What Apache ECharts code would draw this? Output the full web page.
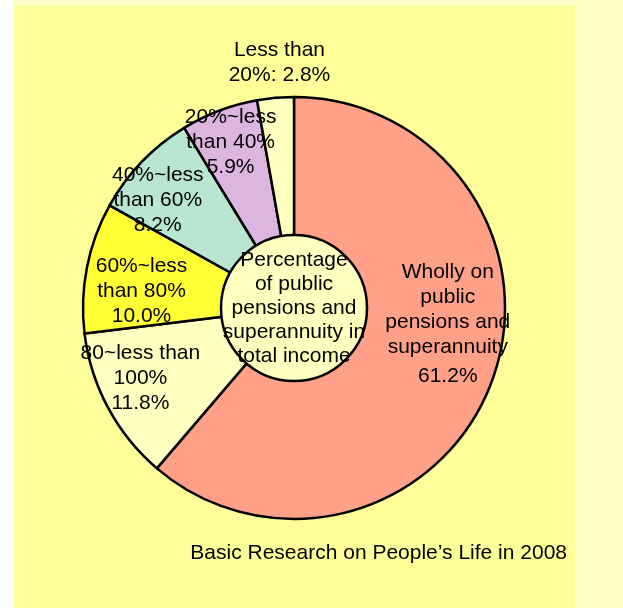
<!DOCTYPE html>
<html>
<head>
<meta charset="utf-8">
<script src="https://cdn.jsdelivr.net/npm/echarts@6/dist/echarts.min.js"></script>
<style>
  html, body { margin: 0; padding: 0; background: #ffffff; }
  #chart { width: 623px; height: 608px; }
</style>
</head>
<body>
<div id="chart"></div>
<script>
// Share of public pensions and superannuity in total income
const categories = [
  'Wholly on\npublic\npensions and\nsuperannuity',
  '80~less than\n100%',
  '60%~less\nthan 80%',
  '40%~less\nthan 60%',
  '20%~less\nthan 40%',
  'Less than\n20%'
];
const shares = [61.2, 11.8, 10.0, 8.2, 5.9, 2.8];
const valueSeparators = ['\n', '\n', '\n', '\n', '\n', ': '];
const centerTitle = 'Percentage\nof public\npensions and\nsuperannuity in\ntotal income';
const sourceNote = 'Basic Research on People\u2019s Life in 2008';

// slice styling
const sliceColors = ['#FFA088', '#FFFFC0', '#FFFF33', '#B8E6D0', '#DDB6E0', '#FFFFC0'];
// label nudges from the default inside position [dx, dy]
const labelNudges = [[52, -19], [-58, 19], [-46, 4], [-58, -33], [-25, -64], [-5, -137]];

const font = '"Liberation Sans", Arial, sans-serif';

const chart = echarts.init(document.getElementById('chart'), null, { renderer: 'canvas' });

chart.setOption({
  backgroundColor: '#FFFFC8',
  animation: false,
  graphic: [
    { type: 'rect', z: -10, shape: { x: 0, y: 0, width: 14, height: 608 }, style: { fill: '#ffffff' } },
    { type: 'rect', z: -10, shape: { x: 14, y: 6, width: 561, height: 602 }, style: { fill: '#FFFF99' } },
    {
      type: 'text', z: 10, x: 567, y: 553,
      style: {
        text: sourceNote, fill: '#000', font: '21px ' + font,
        align: 'right', verticalAlign: 'middle'
      }
    }
  ],
  series: [
    {
      type: 'pie',
      center: [294, 308],
      radius: [0, 211],
      startAngle: 90,
      clockwise: true,
      silent: true,
      itemStyle: { borderColor: '#000', borderWidth: 2.5 },
      label: {
        show: true,
        position: 'inside',
        color: '#000',
        fontFamily: font,
        fontSize: 21,
        lineHeight: 25,
        align: 'center',
        formatter: p => {
          const i = p.dataIndex;
          const val = shares[i].toFixed(1) + '%';
          return i === 0
            ? categories[i] + '\n{gap|' + val + '}'
            : categories[i] + valueSeparators[i] + val;
        },
        rich: {
          gap: { fontFamily: font, fontSize: 21, lineHeight: 33, color: '#000' }
        }
      },
      labelLine: { show: false },
      labelLayout: p => ({ dx: labelNudges[p.dataIndex][0], dy: labelNudges[p.dataIndex][1] }),
      data: shares.map((v, i) => ({
        value: v,
        name: categories[i],
        itemStyle: { color: sliceColors[i] }
      }))
    },
    {
      type: 'pie',
      z: 5,
      center: [294, 308],
      radius: [0, 73],
      silent: true,
      itemStyle: { color: '#FFFFC0', borderColor: '#000', borderWidth: 2.5 },
      label: {
        show: true,
        position: 'center',
        color: '#000',
        fontFamily: font,
        fontSize: 21,
        lineHeight: 24,
        formatter: centerTitle
      },
      labelLine: { show: false },
      data: [{ value: 1, name: 'center' }]
    }
  ]
});
</script>
</body>
</html>
